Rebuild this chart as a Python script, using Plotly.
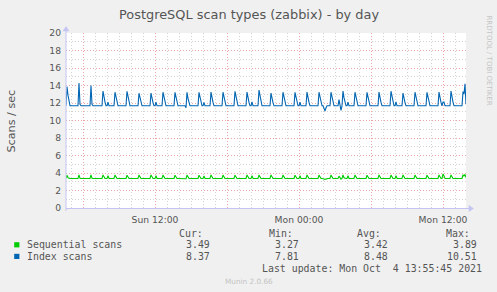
import pandas as pd
import plotly.graph_objects as go

# ---------------- data (5-minute samples, Sun 2021-10-03 04:35 .. Mon 2021-10-04 13:55) ----------------
START = "2021-10-03 04:35"
END = "2021-10-04 13:55"

# Sequential scans (per hourly block :35 .. :30)
seq_scans = [
    3.38, 3.76, 3.46, 3.38, 3.38, 3.38, 3.38, 3.38, 3.38, 3.38, 3.38, 3.38,  # Sun 04
    3.38, 3.78, 3.40, 3.38, 3.38, 3.38, 3.38, 3.38, 3.38, 3.38, 3.38, 3.38,  # Sun 05
    3.38, 3.78, 3.40, 3.38, 3.38, 3.38, 3.38, 3.38, 3.38, 3.38, 3.38, 3.38,  # Sun 06
    3.38, 3.78, 3.46, 3.38, 3.38, 3.38, 3.68, 3.38, 3.38, 3.38, 3.38, 3.38,  # Sun 07
    3.38, 3.76, 3.46, 3.38, 3.38, 3.38, 3.38, 3.38, 3.38, 3.38, 3.38, 3.38,  # Sun 08
    3.38, 3.74, 3.46, 3.38, 3.38, 3.38, 3.38, 3.38, 3.38, 3.38, 3.38, 3.38,  # Sun 09
    3.38, 3.76, 3.46, 3.38, 3.38, 3.38, 3.38, 3.38, 3.38, 3.38, 3.38, 3.38,  # Sun 10
    3.38, 3.78, 3.46, 3.38, 3.38, 3.38, 3.68, 3.38, 3.38, 3.38, 3.38, 3.38,  # Sun 11
    3.38, 3.76, 3.46, 3.38, 3.38, 3.38, 3.38, 3.38, 3.38, 3.38, 3.38, 3.38,  # Sun 12
    3.38, 3.74, 3.46, 3.38, 3.38, 3.38, 3.38, 3.38, 3.34, 3.38, 3.38, 3.38,  # Sun 13
    3.34, 3.76, 3.46, 3.38, 3.38, 3.38, 3.38, 3.38, 3.38, 3.38, 3.38, 3.38,  # Sun 14
    3.38, 3.74, 3.46, 3.38, 3.38, 3.38, 3.66, 3.38, 3.38, 3.38, 3.38, 3.38,  # Sun 15
    3.38, 3.78, 3.46, 3.38, 3.38, 3.38, 3.38, 3.38, 3.38, 3.38, 3.38, 3.38,  # Sun 16
    3.38, 3.76, 3.46, 3.38, 3.38, 3.38, 3.38, 3.38, 3.34, 3.38, 3.38, 3.38,  # Sun 17
    3.38, 3.74, 3.46, 3.38, 3.38, 3.38, 3.38, 3.38, 3.38, 3.38, 3.38, 3.38,  # Sun 18
    3.38, 3.78, 3.46, 3.38, 3.38, 3.38, 3.70, 3.38, 3.38, 3.38, 3.38, 3.38,  # Sun 19
    3.38, 3.76, 3.46, 3.38, 3.38, 3.38, 3.38, 3.38, 3.38, 3.38, 3.38, 3.38,  # Sun 20
    3.38, 3.78, 3.46, 3.38, 3.38, 3.38, 3.38, 3.34, 3.38, 3.38, 3.38, 3.38,  # Sun 21
    3.38, 3.76, 3.46, 3.38, 3.38, 3.38, 3.38, 3.38, 3.38, 3.38, 3.38, 3.38,  # Sun 22
    3.38, 3.74, 3.46, 3.38, 3.38, 3.38, 3.68, 3.38, 3.38, 3.38, 3.38, 3.38,  # Sun 23
    3.38, 3.78, 3.46, 3.38, 3.38, 3.38, 3.38, 3.38, 3.38, 3.38, 3.38, 3.38,  # Mon 00
    3.38, 3.76, 3.46, 3.38, 3.38, 3.38, 3.32, 3.27, 3.34, 3.38, 3.38, 3.38,  # Mon 01
    3.38, 3.76, 3.46, 3.38, 3.38, 3.38, 3.38, 3.38, 3.38, 3.64, 3.38, 3.30,  # Mon 02
    3.38, 3.78, 3.46, 3.38, 3.38, 3.38, 3.68, 3.38, 3.38, 3.38, 3.38, 3.38,  # Mon 03
    3.38, 3.76, 3.46, 3.38, 3.38, 3.38, 3.38, 3.38, 3.34, 3.38, 3.38, 3.38,  # Mon 04
    3.38, 3.74, 3.46, 3.38, 3.38, 3.38, 3.38, 3.38, 3.38, 3.38, 3.38, 3.38,  # Mon 05
    3.38, 3.78, 3.46, 3.38, 3.38, 3.38, 3.38, 3.38, 3.38, 3.38, 3.38, 3.38,  # Mon 06
    3.38, 3.76, 3.46, 3.38, 3.38, 3.38, 3.70, 3.38, 3.38, 3.38, 3.38, 3.38,  # Mon 07
    3.38, 3.78, 3.46, 3.38, 3.38, 3.38, 3.38, 3.38, 3.34, 3.38, 3.38, 3.38,  # Mon 08
    3.38, 3.76, 3.46, 3.38, 3.38, 3.38, 3.38, 3.38, 3.38, 3.38, 3.38, 3.38,  # Mon 09
    3.38, 3.74, 3.46, 3.38, 3.38, 3.38, 3.38, 3.38, 3.38, 3.38, 3.38, 3.38,  # Mon 10
    3.38, 3.78, 3.46, 3.38, 3.38, 3.89, 3.66, 3.38, 3.38, 3.38, 3.38, 3.38,  # Mon 11
    3.38, 3.78, 3.46, 3.38, 3.38, 3.38, 3.38, 3.38, 3.38, 3.38, 3.38, 3.38,  # Mon 12
    3.38, 3.80, 3.62, 3.85, 3.49,                                            # Mon 13
]

# Index scans (stacked on top of sequential scans)
index_scans = [
    8.30, 10.12, 9.44, 8.86, 8.30, 8.30, 8.30, 8.30, 8.30, 8.30, 8.30, 8.30,  # Sun 04
    8.30, 10.51, 8.45, 8.30, 8.30, 8.30, 8.30, 8.30, 8.30, 8.30, 8.30, 8.30,  # Sun 05
    8.30, 10.22, 8.45, 8.30, 8.30, 8.30, 8.30, 8.30, 8.30, 8.30, 8.30, 8.30,  # Sun 06
    8.30, 9.59, 9.15, 8.72, 8.30, 8.30, 8.42, 8.30, 8.30, 8.30, 8.30, 8.30,   # Sun 07
    8.30, 9.47, 9.08, 8.69, 8.30, 8.30, 8.30, 8.30, 8.30, 8.30, 8.30, 8.30,   # Sun 08
    8.30, 9.59, 9.15, 8.72, 8.30, 8.30, 8.30, 8.30, 8.30, 8.30, 8.30, 8.30,   # Sun 09
    8.30, 9.36, 9.02, 8.67, 8.30, 8.30, 8.30, 8.30, 8.30, 8.30, 8.30, 8.30,   # Sun 10
    8.30, 9.36, 9.02, 8.67, 8.30, 8.30, 8.42, 8.30, 8.30, 8.30, 8.30, 8.30,   # Sun 11
    8.30, 9.47, 9.08, 8.69, 8.30, 8.30, 8.30, 8.30, 8.30, 8.30, 8.30, 8.30,   # Sun 12
    8.30, 9.47, 9.08, 8.69, 8.30, 8.30, 8.30, 8.30, 8.30, 8.30, 8.30, 8.30,   # Sun 13
    8.12, 9.47, 9.08, 8.69, 8.30, 8.30, 8.30, 8.30, 8.30, 8.30, 8.30, 8.30,   # Sun 14
    8.30, 9.47, 9.08, 8.69, 8.30, 8.30, 8.42, 8.30, 8.30, 8.30, 8.30, 8.30,   # Sun 15
    8.30, 9.47, 9.08, 8.69, 8.30, 8.30, 8.30, 8.30, 8.30, 8.30, 8.30, 8.30,   # Sun 16
    8.30, 9.47, 9.08, 8.69, 8.30, 8.30, 8.30, 8.30, 8.30, 8.30, 8.30, 8.30,   # Sun 17
    8.30, 9.59, 9.15, 8.72, 8.30, 8.30, 8.30, 8.30, 8.30, 8.30, 8.30, 8.30,   # Sun 18
    8.30, 9.47, 9.08, 8.69, 8.30, 8.30, 8.42, 8.30, 8.30, 8.30, 8.30, 8.30,   # Sun 19
    8.30, 9.72, 9.22, 8.76, 8.30, 8.30, 8.30, 8.30, 8.30, 8.30, 8.30, 8.30,   # Sun 20
    8.30, 9.36, 9.02, 8.67, 8.30, 8.30, 8.30, 8.30, 8.30, 8.30, 8.30, 8.30,   # Sun 21
    8.30, 9.47, 9.08, 8.69, 8.30, 8.30, 8.30, 8.30, 8.30, 8.30, 8.30, 8.30,   # Sun 22
    8.30, 9.47, 9.08, 8.69, 8.30, 8.30, 8.42, 8.30, 8.30, 8.30, 8.30, 8.30,   # Sun 23
    8.30, 9.47, 9.08, 8.69, 8.30, 8.30, 8.30, 8.30, 8.30, 8.30, 8.30, 8.30,   # Mon 00
    8.30, 9.47, 9.08, 8.69, 8.30, 8.30, 8.05, 7.81, 8.12, 8.30, 8.30, 8.30,   # Mon 01
    8.30, 9.47, 9.08, 8.69, 8.30, 8.30, 8.30, 8.30, 8.30, 8.75, 8.30, 7.86,   # Mon 02
    8.30, 9.59, 9.15, 8.72, 8.30, 8.30, 8.42, 8.30, 8.30, 8.30, 8.30, 8.30,   # Mon 03
    8.30, 9.47, 9.08, 8.69, 8.30, 8.30, 8.30, 8.30, 8.30, 8.30, 8.30, 8.30,   # Mon 04
    8.30, 9.47, 9.08, 8.69, 8.30, 8.30, 8.30, 8.30, 8.30, 8.30, 8.30, 8.30,   # Mon 05
    8.30, 9.47, 9.08, 8.69, 8.30, 8.30, 8.30, 8.30, 8.30, 8.30, 8.30, 8.30,   # Mon 06
    8.30, 9.59, 9.15, 8.72, 8.30, 8.30, 8.42, 8.30, 8.30, 8.30, 8.30, 8.30,   # Mon 07
    8.30, 9.36, 9.02, 8.67, 8.30, 8.30, 8.30, 8.30, 8.30, 8.30, 8.30, 8.30,   # Mon 08
    8.30, 9.47, 9.08, 8.69, 8.30, 8.30, 8.30, 8.30, 8.30, 8.30, 8.30, 8.30,   # Mon 09
    8.30, 9.47, 9.08, 8.69, 8.30, 8.30, 8.30, 8.30, 8.30, 8.30, 8.30, 8.30,   # Mon 10
    8.30, 9.47, 9.08, 8.69, 8.30, 8.21, 8.44, 8.30, 8.30, 8.30, 8.30, 8.30,   # Mon 11
    8.30, 9.59, 9.15, 8.72, 8.30, 8.30, 8.30, 8.30, 8.30, 8.30, 8.30, 8.30,   # Mon 12
    8.30, 9.50, 9.40, 10.35, 8.37,                                             # Mon 13
]

times = pd.date_range(START, END, freq="5min")

series_names = ["Sequential scans", "Index scans"]
series_colors = ["#00CC00", "#0066B3"]
stats_cur = ["3.49", "8.37"]
stats_min = ["3.27", "7.81"]
stats_avg = ["3.42", "8.48"]
stats_max = ["3.89", "10.51"]

x_tick_vals = ["2021-10-03 06:00", "2021-10-03 12:00", "2021-10-03 18:00",
               "2021-10-04 00:00", "2021-10-04 06:00", "2021-10-04 12:00"]
x_tick_text = ["", "Sun 12:00", "", "Mon 00:00", "", "Mon 12:00"]
y_tick_vals = list(range(0, 21, 2))

TITLE = "PostgreSQL scan types (zabbix) - by day"
Y_TITLE = "Scans / sec"
LAST_UPDATE = "Last update: Mon Oct \u00a04 13:55:45 2021"

# ---------------- layout helpers ----------------
W, H = 497, 292
L, R, T, B = 66, 31, 33, 84
PW, PH = W - L - R, H - T - B


def px(x):
    return (x - L) / PW


def py(y):
    return (T + PH - y) / PH


MAJOR = "rgba(245,150,150,0.75)"
MINOR = "rgba(200,200,200,0.8)"
AXIS = "#C4C4F4"
TXT = "#555555"
SANS = "DejaVu Sans"
MONO = "DejaVu Sans Mono"

fig = go.Figure()
fig.add_trace(go.Scatter(x=times, y=seq_scans, name=series_names[0], mode="lines",
                         stackgroup="s", fill="none",
                         line=dict(color=series_colors[0], width=1.1)))
fig.add_trace(go.Scatter(x=times, y=index_scans, name=series_names[1], mode="lines",
                         stackgroup="s", fill="none",
                         line=dict(color=series_colors[1], width=1.1)))

fig.update_layout(
    width=W, height=H,
    margin=dict(l=L, r=R, t=T, b=B, pad=0),
    paper_bgcolor="#F0F0F0", plot_bgcolor="#FFFFFF",
    showlegend=False,
    font=dict(family=SANS, color=TXT, size=9.2),
    xaxis=dict(
        type="date", range=[START, END],
        tickmode="array", tickvals=x_tick_vals, ticktext=x_tick_text,
        showgrid=True, gridcolor=MAJOR, griddash="1px,2px", gridwidth=1,
        ticks="", ticklabelstandoff=5,
        minor=dict(dtick=3600000, tick0="2021-10-03 00:00", showgrid=True,
                   gridcolor=MINOR, griddash="1px,2px", gridwidth=1),
        showline=False, zeroline=False,
        tickfont=dict(family=SANS, size=9.2, color=TXT),
    ),
    yaxis=dict(
        range=[0, 20], tickmode="array", tickvals=y_tick_vals,
        showgrid=True, gridcolor=MAJOR, griddash="1px,2px", gridwidth=1,
        ticks="", ticklabelstandoff=4,
        minor=dict(dtick=1, tick0=0, showgrid=True,
                   gridcolor=MINOR, griddash="1px,2px", gridwidth=1),
        showline=False, zeroline=False,
        tickfont=dict(family=SANS, size=9.2, color=TXT),
    ),
)

shapes = []
# axis lines with arrow heads
shapes.append(dict(type="line", xref="paper", yref="paper", x0=px(66), x1=px(470),
                   y0=py(208.5), y1=py(208.5), line=dict(color=AXIS, width=1), layer="above"))
shapes.append(dict(type="path", xref="paper", yref="paper",
                   path=f"M {px(469)} {py(205.5)} L {px(473.5)} {py(208.5)} L {px(469)} {py(211.5)} Z",
                   fillcolor=AXIS, line=dict(color=AXIS, width=0.5), layer="above"))
shapes.append(dict(type="line", xref="paper", yref="paper", x0=px(66), x1=px(66),
                   y0=py(211), y1=py(30), line=dict(color=AXIS, width=1), layer="above"))
shapes.append(dict(type="path", xref="paper", yref="paper",
                   path=f"M {px(63)} {py(31)} L {px(66)} {py(26.5)} L {px(69)} {py(31)} Z",
                   fillcolor=AXIS, line=dict(color=AXIS, width=0.5), layer="above"))
# legend colour squares
for i, c in enumerate(series_colors):
    yc = 244.8 + i * 11.6
    shapes.append(dict(type="rect", xref="paper", yref="paper",
                       x0=px(14.2), x1=px(19.4), y0=py(yc + 2.6), y1=py(yc - 2.6),
                       fillcolor=c, line=dict(width=0)))
fig.update_layout(shapes=shapes)

ann = []


def text(s, x, y, xa="left", ya="middle", size=9.9, fam=MONO, color=TXT, angle=0):
    ann.append(dict(text=s, x=px(x), y=py(y), xref="paper", yref="paper",
                    xanchor=xa, yanchor=ya, showarrow=False, borderpad=0,
                    textangle=angle, font=dict(family=fam, size=size, color=color)))


text(TITLE, 248.5, 14.5, xa="center", size=12.9, fam=SANS)
text(Y_TITLE, 11, 120.5, xa="center", size=11.2, fam=SANS, angle=-90)
text("RRDTOOL / TOBI OETIKER", 488.5, 61, xa="center", size=7, fam=SANS,
     color="#C4C4C4", angle=90)

heads = ["Cur:", "Min:", "Avg:", "Max:"]
head_x = [203.5, 293.5, 381.5, 470.5]
val_x = [211, 299.5, 388.5, 477.5]
for h, hx in zip(heads, head_x):
    text(h, hx, 233, xa="right")
for i, name in enumerate(series_names):
    yr = 244.8 + i * 11.6
    text(name, 26.3, yr)
    for v, vx in zip([stats_cur[i], stats_min[i], stats_avg[i], stats_max[i]], val_x):
        text(v, vx, yr, xa="right")
text(LAST_UPDATE, 483, 268.3, xa="right")
text("Munin 2.0.66", 248.5, 281.7, xa="center", size=7.3, fam=SANS, color="#C4C4C4")

fig.update_layout(annotations=ann)
fig.write_html("out.html")
